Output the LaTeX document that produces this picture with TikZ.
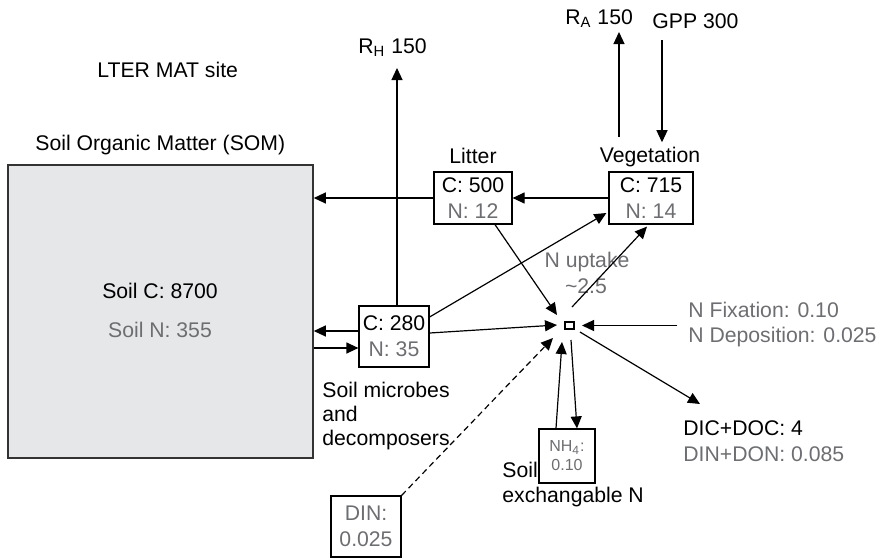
\documentclass[tikz,border=0pt]{standalone}
\usepackage{fontspec}
\setmainfont{Liberation Sans}
\usetikzlibrary{arrows.meta,calc}
\definecolor{tg}{RGB}{109,110,113}
\definecolor{somfill}{RGB}{230,231,232}
\begin{document}
\begin{tikzpicture}[x=0.5pt,y=-0.5pt,
  font=\fontsize{10.6}{13}\selectfont,
  pool/.style={draw, line width=0.6pt, align=center, inner sep=0pt},
  lbl/.style={inner sep=0pt},
  gr/.style={text=tg},
  flow/.style={line width=0.6pt, -{Triangle[length=6pt,width=5.5pt]}},
]
\useasboundingbox (0,0) rectangle (880,558);

% Soil organic matter
\node[draw=black!80, line width=0.8pt, fill=somfill, minimum width=152.5pt, minimum height=146.5pt, inner sep=0pt] (som) at (160.5,311.5) {};
\node[lbl, anchor=base] (somc) at (160,298) {Soil C: 8700};
\node[lbl, anchor=base, gr] (somn) at (160,337) {Soil N: 355};
\node[lbl, anchor=base west] (somt) at (35,150) {Soil Organic Matter (SOM)};
\node[lbl, anchor=base west] (site) at (97,77) {LTER MAT site};

% pools
\node[pool, minimum width=35pt, minimum height=30.5pt] (mic) at (394,336.5) {C: 280\\\textcolor{tg}{N: 35}};
\node[pool, minimum width=39pt, minimum height=26pt] (litter) at (473,198) {C: 500\\\textcolor{tg}{N: 12}};
\node[pool, minimum width=42pt, minimum height=26pt] (veg) at (651,198) {C: 715\\\textcolor{tg}{N: 14}};
\node[pool, minimum width=4.5pt, minimum height=3.5pt] (sq) at (569.5,325.5) {};
\node[pool, minimum width=28pt, minimum height=27pt, font=\fontsize{8}{9.5}\selectfont, text=tg] (nh4) at (567,456) {NH\textsubscript{4}:\\0.10};
\node[pool, minimum width=35pt, minimum height=30.5pt, text=tg] (din) at (366,526.5) {DIN:\\0.025};

% labels
\node[lbl, anchor=base] (littl) at (473,163) {Litter};
\node[lbl, anchor=base] (vegl) at (650,162) {Vegetation};
\node[lbl, anchor=base west] (rh) at (358,53) {R\textsubscript{H} 150};
\node[lbl, anchor=base west] (ra) at (565,24) {R\textsubscript{A} 150};
\node[lbl, anchor=base west] (gpp) at (652,28) {GPP 300};
\node[lbl, anchor=base, gr] (up1) at (587,267) {N uptake};
\node[lbl, anchor=base, gr] (up2) at (586,293) {\textasciitilde 2.5};
\node[lbl, anchor=base west, gr] (fix1) at (688,317) {N Fixation: 0.10};
\node[lbl, anchor=base west, gr] (fix2) at (688,342) {N Deposition: 0.025};
\node[lbl, anchor=base west] (dic1) at (683,435) {DIC+DOC: 4};
\node[lbl, anchor=base west, gr] (dic2) at (683,461) {DIN+DON: 0.085};
\node[lbl, anchor=base west] (mic1) at (322,397) {Soil microbes};
\node[lbl, anchor=base west] (mic2) at (322,421) {and};
\node[lbl, anchor=base west] (mic3) at (322,445) {decomposers};
\node[lbl, anchor=base west] (ex1) at (502,477) {Soil};
\node[lbl, anchor=base west] (ex2) at (502,502) {exchangable N};

% free ends
\coordinate (rhtip) at (397,68);
\coordinate (ratip) at (619,32);
\coordinate (gpp0) at (662,40);
\coordinate (dictip) at (700,404);
\coordinate (m1) at ($(mic.west)+(0,-5.5)$);
\coordinate (m2) at ($(mic.west)+(0,11.5)$);
\coordinate (fx) at ([xshift=-5.5pt]fix1.west);
\coordinate (ra0) at (vegl.north -| ratip);
\coordinate (gp1) at (vegl.north -| gpp0);

% connectors
\draw[flow] (veg.west) -- (litter.east);
\draw[flow] (litter.west) -- (som.east |- litter.west);
\draw[flow] (m1) -- (som.east |- m1);
\draw[flow] (som.east |- m2) -- (m2);
\draw[flow] (mic.north -| rhtip) -- (rhtip);
\draw[flow] ($(ra0)+(0,-9)$) -- (ratip);
\draw[flow] (gpp0) -- ($(gp1)+(0,-4)$);
\draw[flow] ($(litter.south)+(22,0)$) -- ($(sq)+(-12.5,-10.5)$);
\draw[flow] ($(mic.east)+(0,-3.5)$) -- ($(sq)+(-12.5,-0.5)$);
\draw[flow] ($(mic.east)+(0,-19.5)$) -- ($(veg.west)+(-2,15)$);
\draw[flow] ($(sq)+(2.5,-18.5)$) -- ($(veg.south)+(-4,2)$);
\draw[flow] (fx |- sq) -- ($(sq)+(12.5,0)$);
\draw[flow] ($(sq)+(10.5,6.5)$) -- (dictip);
\draw[flow] ($(nh4.north)+(-11,0)$) -- ($(sq)+(-7.5,16.5)$);
\draw[flow] ($(sq)+(1.5,14.5)$) -- ($(nh4.north)+(10,0)$);
\draw[flow, dash pattern=on 3pt off 2pt] (din.north east) -- ($(sq)+(-16.5,12.5)$);
\end{tikzpicture}
\end{document}
